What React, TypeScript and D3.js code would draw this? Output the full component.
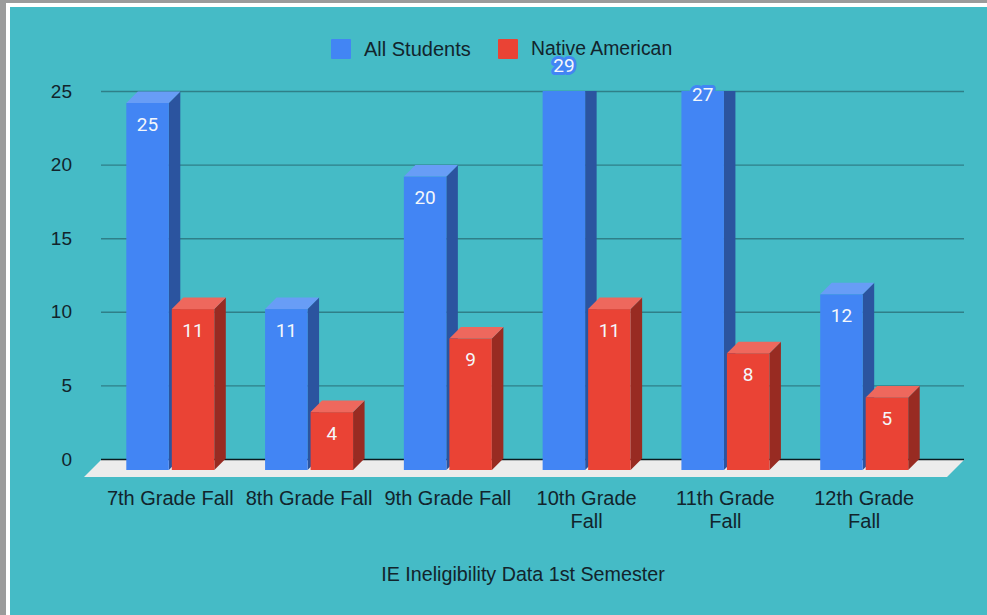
import React from "react";
import * as d3 from "d3";

const categories = [["7th Grade Fall"], ["8th Grade Fall"], ["9th Grade Fall"], ["10th Grade", "Fall"], ["11th Grade", "Fall"], ["12th Grade", "Fall"]];
const allStudents = [25, 11, 20, 29, 27, 12];
const nativeAmerican = [11, 4, 9, 11, 8, 5];
const yTicks = [0, 5, 10, 15, 20, 25];
const seriesNames = ["All Students", "Native American"];
const xLabel = "IE Ineligibility Data 1st Semester";

const FONT = "'Liberation Sans', Arial, sans-serif";
const LABEL_FONT = "Roboto, 'Liberation Sans', sans-serif";
const INK = "#12242c";
const W = 987, H = 615;
const dx = 11.5, dy = 11.5;

const y = d3.scaleLinear().domain([0, 25]).range([459.5, 91.5]);
const frontX = d3.scaleLinear().domain([0, 5]).range([126.3, 820.2]);
const barW = 42.5, gap = 45.5;

const palettes = [
  { front: "#4285f4", side: "#2b549f", top: "#689df6" },
  { front: "#ea4335", side: "#982b22", top: "#ee685d" },
];

function Bar({ i, s, v }: { i: number; s: number; v: number }) {
  const p = palettes[s];
  const x0 = frontX(i) + s * gap;
  const x1 = x0 + barW;
  const yt = y(v) + dy;
  const yb = y(0) + 10.5;
  return (
    <g clipPath="url(#plotClip)">
      <polygon points={`${x1},${yb} ${x1 + dx},${yb - dy} ${x1 + dx},${yt - dy} ${x1},${yt}`} fill={p.side} />
      <polygon points={`${x0},${yt} ${x0 + dx},${yt - dy} ${x1 + dx},${yt - dy} ${x1},${yt}`} fill={p.top} />
      <rect x={x0} y={yt} width={barW} height={yb - yt} fill={p.front} />
    </g>
  );
}

function BarLabel({ i, s, v }: { i: number; s: number; v: number }) {
  const cx = frontX(i) + s * gap + barW / 2;
  const cy = y(v) + dy + 21;
  const halo = cy < y(25) + 12;
  return (
    <text x={cx} y={cy} dy="0.35em" textAnchor="middle" fontFamily={LABEL_FONT} fontSize={19} fill="#f4f7fb"
      stroke={halo ? palettes[s].front : "none"} strokeWidth={halo ? 6 : 0} strokeLinejoin="round" style={{ paintOrder: "stroke" }}>
      {v}
    </text>
  );
}

export default function App() {
  return (
    <svg width={W} height={H} viewBox={`0 0 ${W} ${H}`} style={{ position: "fixed", left: 0, top: 0, display: "block" }}>
      <defs>
        <clipPath id="plotClip"><rect x={0} y={91} width={W} height={H - 91} /></clipPath>
      </defs>
      <rect width={W} height={H} fill="#9b9b9b" />
      <rect x={6} y={3} width={W - 6} height={H - 3} fill="#ffffff" />
      <rect x={10} y={7} width={W - 10} height={H - 7} fill="#45bbc6" />

      <polygon points={`84,477 101,460 964,460 947,477`} fill="#ececec" />
      {yTicks.map((t) => (
        <g key={t}>
          <line x1={101} x2={964} y1={y(t)} y2={y(t)} stroke={t === 0 ? "#0b1a1e" : "#2f7f88"} strokeWidth={t === 0 ? 1.6 : 1.4} />
          <text x={72} y={y(t) - 0.5} dy="0.35em" textAnchor="end" fontFamily={FONT} fontSize={19} fill={INK}>{t}</text>
        </g>
      ))}

      {categories.map((_, i) => (
        <g key={i}>
          <Bar i={i} s={0} v={allStudents[i]} />
          <Bar i={i} s={1} v={nativeAmerican[i]} />
        </g>
      ))}
      {categories.map((_, i) => (
        <g key={i}>
          <BarLabel i={i} s={0} v={allStudents[i]} />
          <BarLabel i={i} s={1} v={nativeAmerican[i]} />
        </g>
      ))}

      {categories.map((lines, i) => (
        <text key={i} textAnchor="middle" fontFamily={FONT} fontSize={20} fill={INK}>
          {lines.map((l, j) => (
            <tspan key={j} x={frontX(i) + 44} y={498 + j * 23} dy="0.35em">{l}</tspan>
          ))}
        </text>
      ))}

      <rect x={331} y={39} width={20} height={20} rx={1} fill={palettes[0].front} />
      <text x={364} y={48.5} dy="0.35em" fontFamily={FONT} fontSize={20} fill={INK}>{seriesNames[0]}</text>
      <rect x={498} y={39} width={20} height={20} rx={1} fill={palettes[1].front} />
      <text x={531} y={48.5} dy="0.35em" fontFamily={FONT} fontSize={19.4} fill={INK}>{seriesNames[1]}</text>

      <text x={523} y={574} dy="0.35em" textAnchor="middle" fontFamily={FONT} fontSize={19.7} fill={INK}>{xLabel}</text>
    </svg>
  );
}
